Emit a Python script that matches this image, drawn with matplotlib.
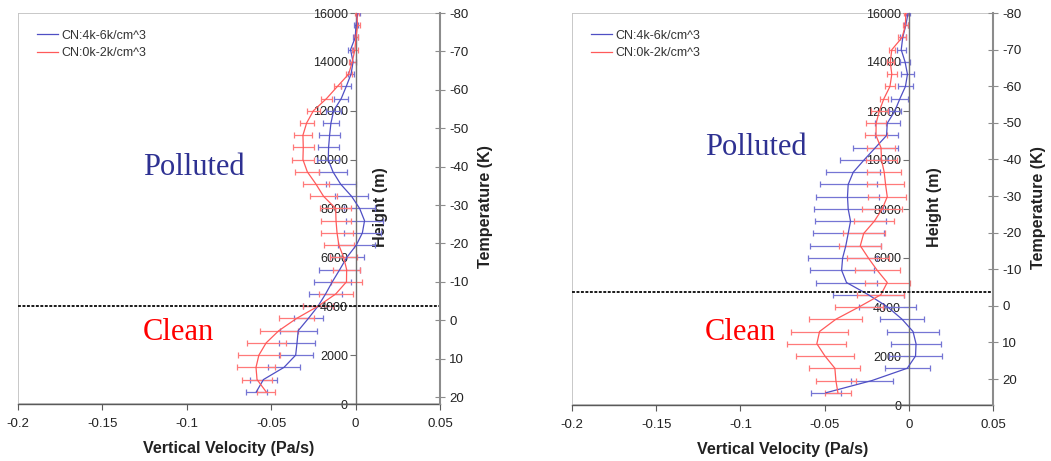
import matplotlib
matplotlib.use('Agg')
import matplotlib.pyplot as plt
from matplotlib.patches import Rectangle

# sounding levels (m), shared by every profile
heights = [500, 1000, 1500, 2000, 2500, 3000, 3500, 4000,
           4500, 5000, 5500, 6000, 6500, 7000, 7500, 8000,
           8500, 9000, 9500, 10000, 10500, 11000, 11500, 12000,
           12500, 13000, 13500, 14000, 14500, 15000, 15500, 16000]

# left case: mean vertical velocity (Pa/s) and spread
left_polluted = [-0.0588, -0.0546, -0.0424, -0.0355, -0.0347, -0.034, -0.028, -0.0223,
                 -0.0178, -0.0138, -0.0094, -0.0052, 0.0004, 0.004, 0.0053, 0.0024,
                 -0.0024, -0.0089, -0.0134, -0.0162, -0.016, -0.0154, -0.0146, -0.013,
                 -0.0085, -0.0055, -0.0027, -0.0015, -0.003, -0.0002, 0.0002, 0.0014]
left_polluted_err = [0.0063, 0.008, 0.0096, 0.010, 0.0104, 0.011, 0.0085, 0.009,
                     0.010, 0.011, 0.012, 0.0099, 0.011, 0.011, 0.011, 0.009,
                     0.010, 0.0089, 0.0083, 0.0065, 0.0064, 0.006, 0.005, 0.0044,
                     0.004, 0.003, 0.002, 0.0016, 0.0014, 0.0014, 0.0012, 0.0014]
left_clean = [-0.053, -0.0584, -0.059, -0.0573, -0.053, -0.0455, -0.035, -0.0223,
              -0.0118, -0.0054, -0.0053, -0.0071, -0.0099, -0.011, -0.0116, -0.0118,
              -0.019, -0.0235, -0.0286, -0.0312, -0.031, -0.0312, -0.029, -0.025,
              -0.0172, -0.0107, -0.0041, -0.002, -0.0004, 0.0002, 0.0012, 0.0006]
left_clean_err = [0.0055, 0.009, 0.0112, 0.0123, 0.0116, 0.0114, 0.0104, 0.009,
                  0.010, 0.0089, 0.0082, 0.008, 0.009, 0.0093, 0.0091, 0.009,
                  0.0081, 0.0075, 0.0071, 0.0064, 0.0061, 0.0053, 0.0041, 0.004,
                  0.0032, 0.0022, 0.0018, 0.002, 0.0016, 0.0014, 0.0012, 0.0012]

# right case
right_polluted = [-0.0492, -0.0218, -0.0009, 0.004, 0.0043, 0.0025, -0.004, -0.0125,
                  -0.024, -0.037, -0.0399, -0.0393, -0.0374, -0.036, -0.0346, -0.036,
                  -0.0364, -0.036, -0.033, -0.0266, -0.0199, -0.0132, -0.0128, -0.0083,
                  -0.0053, -0.002, -0.0008, -0.0022, -0.0045, -0.0036, -0.0018, -0.0004]
right_polluted_err = [0.009, 0.0124, 0.0133, 0.0158, 0.0151, 0.0153, 0.0133, 0.0168,
                      0.021, 0.018, 0.019, 0.0206, 0.021, 0.021, 0.021, 0.0205,
                      0.0186, 0.017, 0.016, 0.014, 0.0135, 0.007, 0.0074, 0.0035,
                      0.005, 0.0044, 0.0036, 0.0028, 0.0028, 0.0018, 0.0012, 0.0014]
right_clean = [-0.0421, -0.0433, -0.0439, -0.0498, -0.0546, -0.053, -0.0433, -0.0296,
               -0.0166, -0.0128, -0.0188, -0.024, -0.0288, -0.0268, -0.0205, -0.0158,
               -0.0128, -0.0138, -0.0146, -0.0162, -0.0165, -0.0195, -0.0194, -0.0175,
               -0.0148, -0.0112, -0.0101, -0.011, -0.0101, -0.004, -0.002, -0.0018]
right_clean_err = [0.0077, 0.0119, 0.0152, 0.0172, 0.0176, 0.017, 0.0158, 0.0143,
                   0.014, 0.0133, 0.0133, 0.0125, 0.0125, 0.0125, 0.012, 0.012,
                   0.0114, 0.011, 0.0102, 0.009, 0.0085, 0.0064, 0.006, 0.005,
                   0.0025, 0.003, 0.0028, 0.002, 0.0017, 0.0025, 0.0015, 0.0013]

series_labels = ['CN:4k-6k/cm^3', 'CN:0k-2k/cm^3']
vel_ticks = [-0.2, -0.15, -0.1, -0.05, 0, 0.05]
vel_labels = ['-0.2', '-0.15', '-0.1', '-0.05', '0', '0.05']
height_ticks = [0, 2000, 4000, 6000, 8000, 10000, 12000, 14000, 16000]
temp_ticks = [-80, -70, -60, -50, -40, -30, -20, -10, 0, 10, 20]

BLUE = '#4f4fc4'
BLUE_ERR = '#7575d4'
RED = '#ff5a5a'
RED_ERR = '#ff7a7a'
SANS = 'Liberation Sans'
SERIF = 'Liberation Serif'

plt.rcParams['font.family'] = SANS

W, H = 1051, 461
fig = plt.figure(figsize=(W / 100, H / 100), dpi=100)


def px_rect(x0, y0, x1, y1):
    return [x0 / W, (H - y1) / H, (x1 - x0) / W, (y1 - y0) / H]


def draw_panel(rect, polluted, polluted_err, clean, clean_err,
               temp_bottom, split_height, polluted_pos, clean_pos):
    ax = fig.add_axes(rect)
    ax.set_xlim(-0.2, 0.05)
    ax.set_ylim(0, 16000)

    ax.add_patch(Rectangle((0, 0), 1, 1, transform=ax.transAxes, fill=False,
                           ec='#c4c4c4', lw=1.3, zorder=0.5))

    ax.errorbar(polluted, heights, xerr=polluted_err, fmt='none', ecolor=BLUE_ERR,
                elinewidth=0.9, capsize=2.2, capthick=0.9, zorder=2)
    ax.errorbar(clean, heights, xerr=clean_err, fmt='none', ecolor=RED_ERR,
                elinewidth=0.9, capsize=2.2, capthick=0.9, zorder=2)
    l1, = ax.plot(polluted, heights, color=BLUE, lw=0.9, zorder=3, label=series_labels[0])
    l2, = ax.plot(clean, heights, color=RED, lw=0.9, zorder=3, label=series_labels[1])

    ax.axhline(split_height, color='#1a1a1a', lw=1.4, ls=(0, (1.5, 0.8)), zorder=4)

    # height axis sits on the zero-velocity line
    ax.spines['left'].set_position(('data', 0))
    ax.spines['left'].set_color('#707070')
    ax.spines['left'].set_linewidth(1.0)
    ax.spines['bottom'].set_color('#5a5a5a')
    ax.spines['bottom'].set_linewidth(1.0)
    ax.spines['top'].set_visible(False)
    ax.spines['right'].set_visible(False)

    ax.set_xticks(vel_ticks)
    ax.set_xticklabels(vel_labels)
    ax.set_yticks(height_ticks)
    ax.set_yticklabels([str(h) for h in height_ticks])
    ax.tick_params(axis='x', direction='out', length=4, width=0.8, color='#5a5a5a',
                   labelsize=9.5, labelcolor='#222222', pad=6)
    ax.tick_params(axis='y', direction='out', length=4, width=0.8, color='#707070',
                   labelsize=9, labelcolor='#222222', pad=1.5)

    ax.set_xlabel('Vertical Velocity (Pa/s)', fontsize=11.6, fontweight='bold',
                  color='#222222')
    ax.xaxis.set_label_coords(0.5, -0.095)
    ax.set_ylabel('Height (m)', fontsize=11.6, fontweight='bold', color='#222222',
                  rotation=90, ha='center', va='center')
    ax.yaxis.set_label_coords(0.86, 0.504)

    ax.legend(handles=[l1, l2], loc='upper left', bbox_to_anchor=(0.045, 0.957),
              frameon=False, fontsize=9, handlelength=1.7, handletextpad=0.25,
              labelspacing=0.45, borderpad=0, borderaxespad=0, labelcolor='#333333')

    ax.text(polluted_pos[0], polluted_pos[1], 'Polluted', transform=ax.transAxes,
            family=SERIF, fontsize=22, color='#2e3192', ha='left', va='center')
    ax.text(clean_pos[0], clean_pos[1], 'Clean', transform=ax.transAxes,
            family=SERIF, fontsize=22, color='#ff0000', ha='left', va='center')

    # temperature scale on the right edge
    axt = ax.twinx()
    axt.set_ylim(temp_bottom, -80)
    axt.set_yticks(temp_ticks)
    axt.set_yticklabels([str(t) for t in temp_ticks])
    for side in ['left', 'top', 'bottom']:
        axt.spines[side].set_visible(False)
    axt.spines['right'].set_color('#8c8c8c')
    axt.spines['right'].set_linewidth(1.5)
    axt.tick_params(axis='y', direction='inout', length=7, width=0.8, color='#8c8c8c',
                    labelsize=9.5, labelcolor='#222222', pad=3)
    axt.set_ylabel('Temperature (K)', fontsize=11.6, fontweight='bold', color='#222222',
                   rotation=90, ha='center', va='center')
    axt.yaxis.set_label_coords(1.107, 0.504)
    return ax, axt


draw_panel(px_rect(18, 13, 440, 404), left_polluted, left_polluted_err,
           left_clean, left_clean_err, 21.8, 4000, (0.296, 0.604), (0.296, 0.182))
draw_panel(px_rect(572, 13, 993, 405), right_polluted, right_polluted_err,
           right_clean, right_clean_err, 27.1, 4600, (0.316, 0.658), (0.316, 0.184))

fig.savefig('out.png', dpi=100)
